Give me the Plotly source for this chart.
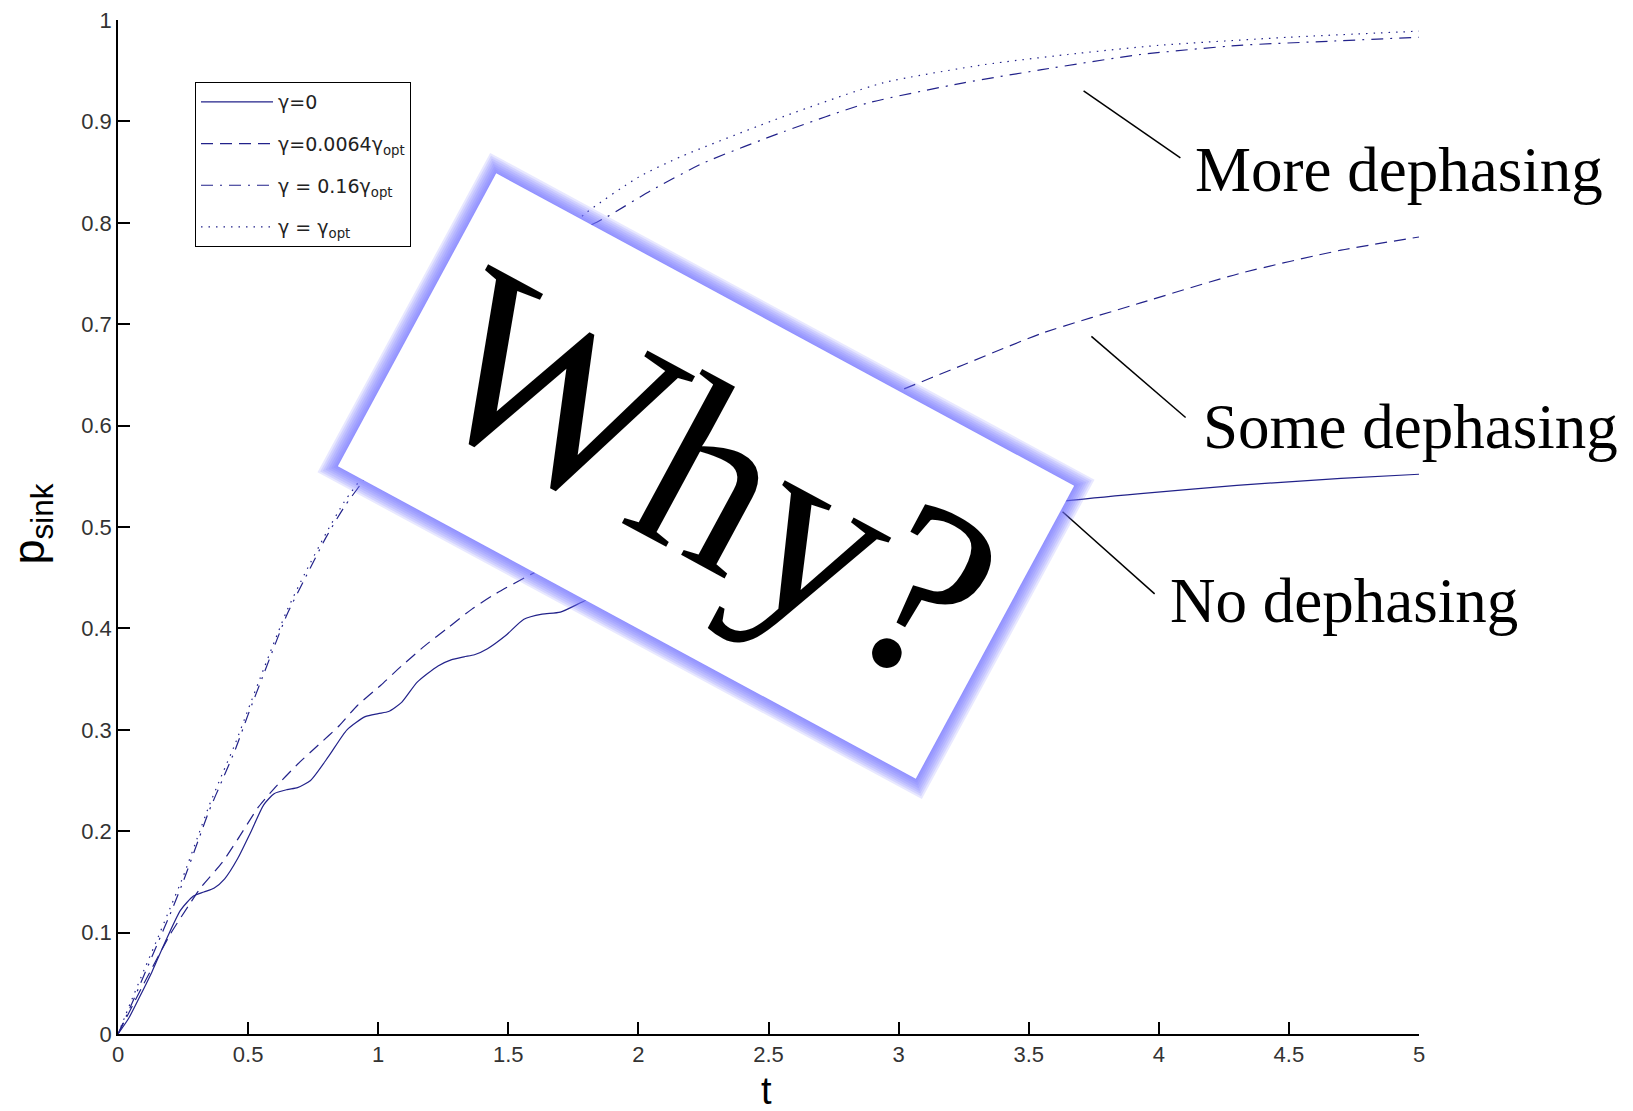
import math
import plotly.graph_objects as go

# ---- data: sink population vs time for four dephasing rates ----
t_none = [0, 0.04, 0.08, 0.13, 0.18, 0.24, 0.29, 0.33, 0.37, 0.41, 0.46, 0.51, 0.56, 0.60,
          0.65, 0.69, 0.74, 0.81, 0.88, 0.95, 1.00, 1.04, 1.09, 1.15, 1.23, 1.28, 1.33, 1.37,
          1.42, 1.49, 1.56, 1.63, 1.70, 1.80, 1.90, 2.0, 2.2, 2.4, 2.6, 2.8, 3.0, 3.2, 3.4,
          3.65, 3.93, 4.3, 4.7, 5.0]
p_none = [0, 0.015, 0.035, 0.061, 0.090, 0.122, 0.136, 0.140, 0.144, 0.153, 0.173, 0.199,
          0.226, 0.237, 0.241, 0.243, 0.250, 0.274, 0.300, 0.313, 0.316, 0.318, 0.327, 0.347,
          0.363, 0.369, 0.372, 0.374, 0.380, 0.393, 0.409, 0.414, 0.416, 0.428, 0.437, 0.445,
          0.460, 0.473, 0.486, 0.496, 0.504, 0.511, 0.517, 0.526, 0.533, 0.541, 0.548, 0.552]

t_some = [0, 0.1, 0.2, 0.28, 0.32, 0.40, 0.46, 0.54, 0.60, 0.69, 0.77, 0.85, 0.92, 1.01,
          1.09, 1.18, 1.27, 1.36, 1.45, 1.6, 1.75, 2.0, 2.25, 2.5, 2.75, 3.0, 3.25, 3.55,
          3.93, 4.31, 4.70, 5.0]
p_some = [0, 0.050, 0.098, 0.130, 0.145, 0.169, 0.192, 0.224, 0.242, 0.266, 0.285, 0.304,
          0.324, 0.344, 0.363, 0.383, 0.401, 0.419, 0.434, 0.455, 0.475, 0.510, 0.545, 0.577,
          0.607, 0.634, 0.660, 0.691, 0.721, 0.750, 0.773, 0.786]

t_more = [0, 0.05, 0.1, 0.15, 0.2, 0.25, 0.31, 0.35, 0.40, 0.45, 0.5, 0.56, 0.65, 0.72,
          0.80, 0.87, 0.94, 1.0, 1.2, 1.4, 1.6, 1.8, 1.88, 2.05, 2.25, 2.56, 2.88, 3.25,
          3.55, 3.93, 4.31, 4.65, 5.0]
p_more = [0, 0.028, 0.058, 0.088, 0.118, 0.150, 0.192, 0.220, 0.250, 0.280, 0.315, 0.355,
          0.414, 0.450, 0.490, 0.520, 0.545, 0.572, 0.645, 0.705, 0.755, 0.795, 0.806, 0.832,
          0.859, 0.890, 0.918, 0.938, 0.951, 0.966, 0.975, 0.979, 0.983]

t_opt = [0, 0.05, 0.1, 0.15, 0.2, 0.25, 0.31, 0.35, 0.40, 0.45, 0.5, 0.56, 0.65, 0.72,
         0.80, 0.87, 0.94, 1.0, 1.2, 1.4, 1.6, 1.8, 2.0, 2.17, 2.56, 2.94, 3.33, 3.65,
         4.0, 4.5, 5.0]
p_opt = [0, 0.032, 0.063, 0.093, 0.124, 0.155, 0.197, 0.225, 0.256, 0.286, 0.320, 0.360,
         0.418, 0.455, 0.494, 0.525, 0.550, 0.577, 0.652, 0.713, 0.765, 0.810, 0.845, 0.866,
         0.905, 0.938, 0.956, 0.966, 0.975, 0.983, 0.989]

legend_names = ["γ=0", "γ=0.0064γ<sub>opt</sub>", "γ = 0.16γ<sub>opt</sub>", "γ = γ<sub>opt</sub>"]
callout_labels = ["More dephasing", "Some dephasing", "No dephasing"]
x_ticks = [0, 0.5, 1, 1.5, 2, 2.5, 3, 3.5, 4, 4.5, 5]
y_ticks = [0, 0.1, 0.2, 0.3, 0.4, 0.5, 0.6, 0.7, 0.8, 0.9, 1]

# ---- page geometry (pixels) ----
W, H = 1633, 1111
ML, MR, MT, MB = 118, 214, 20, 77
PW, PH = W - ML - MR, H - MT - MB


def paper(px, py):
    """Pixel position on the page -> paper coordinates."""
    return (px - ML) / PW, (H - MB - py) / PH


LINE = "#22228a"
SANS = "Liberation Sans, Arial, sans-serif"
WIDE_SANS = "DejaVu Sans, Verdana, sans-serif"
SERIF = "Liberation Serif, Times New Roman, serif"

fig = go.Figure()
series = [
    (t_none, p_none, "solid"),
    (t_some, p_some, "12px,7px"),
    (t_more, p_more, "12px,7px,2px,7px"),
    (t_opt, p_opt, "1.5px,6px"),
]
for name, (t, p, dash) in zip(legend_names, series):
    fig.add_trace(go.Scatter(x=t, y=p, mode="lines", name=name, legendgroup=name,
                             line=dict(color=LINE, width=1.2, dash=dash,
                                       shape="spline", smoothing=0.6)))

axis_style = dict(showline=True, linecolor="black", linewidth=1.5, ticks="inside",
                  ticklen=12, tickwidth=1.5, tickcolor="black", showgrid=False,
                  zeroline=False, tickfont=dict(family=SANS, size=22, color="#333"),
                  mirror=False)

fig.update_layout(
    width=W, height=H,
    margin=dict(l=ML, r=MR, t=MT, b=MB, autoexpand=False),
    paper_bgcolor="white", plot_bgcolor="white",
    xaxis=dict(range=[0, 5], tickvals=x_ticks, **axis_style),
    yaxis=dict(range=[0, 1], tickvals=y_ticks, **axis_style),
    showlegend=True,
    legend=dict(x=paper(195, 82)[0], y=paper(195, 82)[1], xanchor="left", yanchor="top",
                bordercolor="black", borderwidth=1, bgcolor="white",
                font=dict(family=WIDE_SANS, size=19, color="#222"),
                tracegroupgap=14, itemwidth=72),
)

# axis titles
ax_t = paper(766, 1111)
ax_p = paper(0, 524)
fig.add_annotation(text="t", x=ax_t[0], y=ax_t[1], xref="paper", yref="paper",
                   xanchor="center", yanchor="bottom", yshift=-3, showarrow=False,
                   font=dict(family=SANS, size=38, color="black"))
fig.add_annotation(text="p<sub>sink</sub>", x=ax_p[0], y=ax_p[1], xref="paper", yref="paper",
                   xanchor="left", yanchor="middle", showarrow=False, textangle=-90,
                   font=dict(family=SANS, size=45, color="black"))

# callout labels with leader lines (leader ends in data units)
label_pos = [(1193, 170), (1201, 427), (1168, 601)]
leaders = [((3.711, 0.930), (4.083, 0.864)),
           ((3.741, 0.688), (4.103, 0.608)),
           ((3.630, 0.515), (3.984, 0.434))]
for text, (lx, ly), ((x0, y0), (x1, y1)) in zip(callout_labels, label_pos, leaders):
    px_, py_ = paper(lx, ly)
    fig.add_annotation(text=text, x=px_, y=py_, xref="paper", yref="paper",
                       xanchor="left", yanchor="middle", showarrow=False,
                       font=dict(family=SERIF, size=63, color="black"))
    fig.add_shape(type="line", xref="x", yref="y", x0=x0, y0=y0, x1=x1, y1=y1,
                  line=dict(color="black", width=1.5), layer="above")

# tilted "Why?" card with a soft blue glow
cx, cy, cw, ch, ang = 706, 476, 657, 333, math.radians(28.4)
ux, uy = math.cos(ang), math.sin(ang)
vx, vy = -math.sin(ang), math.cos(ang)
corners = []
for su, sv in [(-1, -1), (1, -1), (1, 1), (-1, 1)]:
    px_ = cx + su * ux * cw / 2 + sv * vx * ch / 2
    py_ = cy + su * uy * cw / 2 + sv * vy * ch / 2
    corners.append(paper(px_, py_))
card_path = "M " + " L ".join(f"{a:.5f},{b:.5f}" for a, b in corners) + " Z"

for half in range(15, 0, -2):
    fig.add_shape(type="path", path=card_path, xref="paper", yref="paper",
                  line=dict(color="rgba(110,110,255,0.16)", width=2 * half),
                  fillcolor="rgba(0,0,0,0)", layer="above")
fig.add_shape(type="path", path=card_path, xref="paper", yref="paper",
              line=dict(width=0), fillcolor="white", layer="above")

why = paper(712, 476)
fig.add_annotation(text="Why?", x=why[0], y=why[1], xref="paper", yref="paper",
                   xanchor="center", yanchor="middle", showarrow=False, textangle=28.4,
                   font=dict(family=SERIF, size=250, color="black"))

fig.write_html("out.html")
